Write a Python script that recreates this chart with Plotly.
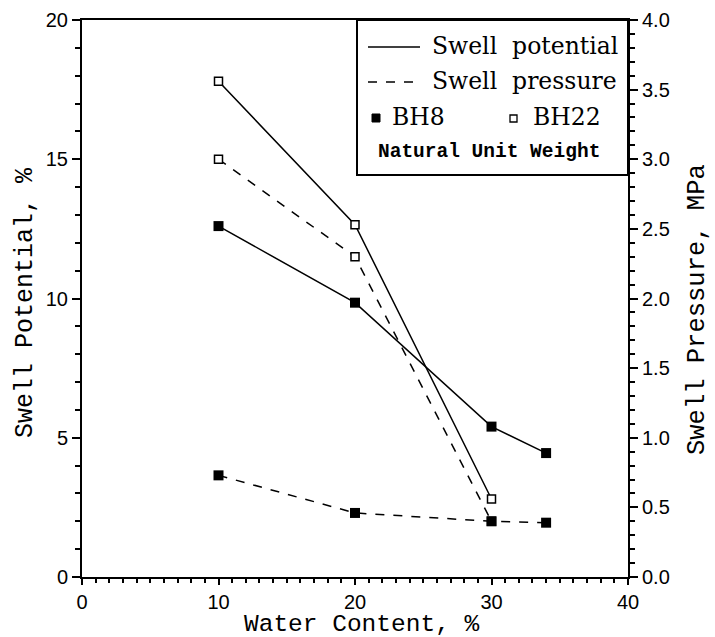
import plotly.graph_objects as go

# Data
water_bh8 = [10, 20, 30, 34]
water_bh22 = [10, 20, 30]
pot_bh8 = [12.6, 9.85, 5.4, 4.45]
pot_bh22 = [17.8, 12.65, 2.8]
pres_bh8 = [0.73, 0.46, 0.40, 0.39]
pres_bh22 = [3.0, 2.3, 0.40]

x_title = "Water Content, %"
y_title = "Swell Potential, %"
y2_title = "Swell Pressure, MPa"

L, R, T, B = 82, 87, 20, 60
W, H = 715, 637
pw, ph = W - L - R, H - T - B

def px(x):
    return (x - L) / pw

def py(y):
    return (H - B - y) / ph

fig = go.Figure()
line_w = 1.5
fig.add_trace(go.Scatter(x=water_bh22, y=pres_bh22, yaxis="y2", mode="lines+markers",
                         line=dict(color="black", width=line_w, dash="dash"),
                         marker=dict(symbol="square", size=8, color="white", line=dict(color="black", width=1.5)),
                         showlegend=False))
fig.add_trace(go.Scatter(x=water_bh8, y=pres_bh8, yaxis="y2", mode="lines+markers",
                         line=dict(color="black", width=line_w, dash="dash"),
                         marker=dict(symbol="square", size=10, color="black"),
                         showlegend=False))
fig.add_trace(go.Scatter(x=water_bh22, y=pot_bh22, mode="lines+markers",
                         line=dict(color="black", width=line_w),
                         marker=dict(symbol="square", size=8, color="white", line=dict(color="black", width=1.5)),
                         showlegend=False))
fig.add_trace(go.Scatter(x=water_bh8, y=pot_bh8, mode="lines+markers",
                         line=dict(color="black", width=line_w),
                         marker=dict(symbol="square", size=10, color="black"),
                         showlegend=False))

tickfont = dict(family="Liberation Sans", size=20, color="black")

common = dict(showgrid=False, zeroline=False, tickcolor="black", tickwidth=2, automargin=False)

fig.update_layout(
    width=W, height=H,
    margin=dict(l=L, r=R, t=T, b=B),
    paper_bgcolor="white", plot_bgcolor="white",
    xaxis=dict(range=[0, 40], tickmode="linear", tick0=0, dtick=10, tickfont=tickfont,
               showline=True, linecolor="black", linewidth=2, mirror=True,
               ticks="outside", ticklen=6,
               minor=dict(ticks="outside", dtick=1, ticklen=4, tickcolor="black", tickwidth=1.5, showgrid=False),
               **common),
    yaxis=dict(range=[0, 20], tickmode="linear", tick0=0, dtick=5, tickfont=tickfont,
               showline=True, linecolor="black", linewidth=2,
               ticks="outside", ticklen=8,
               minor=dict(ticks="outside", dtick=1, ticklen=5, tickcolor="black", tickwidth=1.5, showgrid=False),
               **common),
    yaxis2=dict(range=[0, 4], tickmode="linear", tick0=0, dtick=0.5, tickformat=".1f",
                overlaying="y", side="right", anchor="x", tickfont=tickfont,
                showline=True, linecolor="black", linewidth=2,
                ticks="outside", ticklen=8,
                minor=dict(ticks="outside", dtick=0.1, ticklen=5, tickcolor="black", tickwidth=1.5, showgrid=False),
                **common),
)

# Legend box
shapes = [
    dict(type="rect", xref="paper", yref="paper", x0=px(357), x1=1.0, y0=py(175), y1=1.0,
         line=dict(color="black", width=2), fillcolor="white", layer="above"),
    dict(type="line", xref="paper", yref="paper", x0=px(368), x1=px(420), y0=py(47), y1=py(47),
         line=dict(color="black", width=1.6)),
    dict(type="line", xref="paper", yref="paper", x0=px(368), x1=px(422), y0=py(82), y1=py(82),
         line=dict(color="black", width=1.6, dash="dash")),
    dict(type="rect", xref="paper", yref="paper", x0=px(372), x1=px(380), y0=py(122), y1=py(114),
         line=dict(color="black", width=1), fillcolor="black"),
    dict(type="rect", xref="paper", yref="paper", x0=px(510), x1=px(517), y0=py(122), y1=py(115),
         line=dict(color="black", width=1.3), fillcolor="white"),
]
fig.update_layout(shapes=shapes)

legfont = dict(family="DejaVu Serif", size=23.5, color="black")
ann = [
    dict(text="Swell  potential", x=px(430), y=py(46)),
    dict(text="Swell  pressure", x=px(430), y=py(81)),
    dict(text="BH8", x=px(390), y=py(117)),
    dict(text="BH22", x=px(531), y=py(117)),
]
annotations = []
for a in ann:
    annotations.append(dict(text=a["text"], x=a["x"], y=a["y"], xref="paper", yref="paper",
                            xanchor="left", yanchor="middle", showarrow=False, font=legfont))
annotations.append(dict(text="<b>Natural Unit Weight</b>", x=px(376), y=py(152), xref="paper", yref="paper",
                        xanchor="left", yanchor="middle", showarrow=False,
                        font=dict(family="Liberation Mono", size=19.5, color="black")))
# axis titles
annotations.append(dict(text=x_title, x=px(362), y=py(624), xref="paper", yref="paper",
                        xanchor="center", yanchor="middle", showarrow=False,
                        font=dict(family="Liberation Mono", size=24.5, color="black")))
annotations.append(dict(text=y_title, x=px(25), y=py(303), xref="paper", yref="paper",
                        xanchor="center", yanchor="middle", showarrow=False, textangle=-90,
                        font=dict(family="Liberation Mono", size=25, color="black")))
annotations.append(dict(text=y2_title, x=px(698), y=py(310), xref="paper", yref="paper",
                        xanchor="center", yanchor="middle", showarrow=False, textangle=-90,
                        font=dict(family="Liberation Mono", size=25.5, color="black")))
fig.update_layout(annotations=annotations)

fig.write_html("out.html")
